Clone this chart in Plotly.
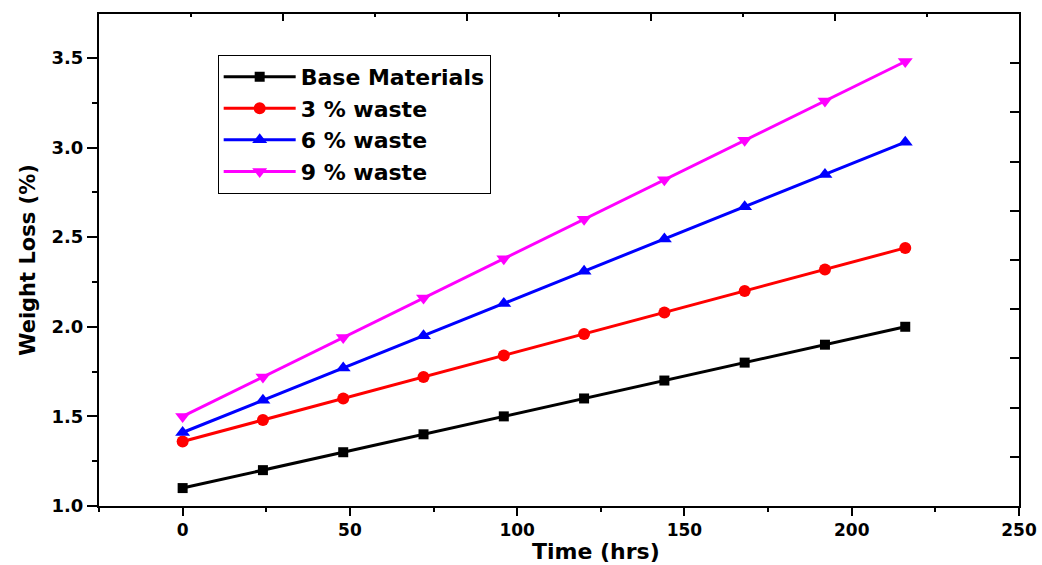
import plotly.graph_objects as go

time_hrs = [0, 24, 48, 72, 96, 120, 144, 168, 192, 216]
base_materials = [1.10, 1.20, 1.30, 1.40, 1.50, 1.60, 1.70, 1.80, 1.90, 2.00]
waste_3 = [1.36, 1.48, 1.60, 1.72, 1.84, 1.96, 2.08, 2.20, 2.32, 2.44]
waste_6 = [1.41, 1.59, 1.77, 1.95, 2.13, 2.31, 2.49, 2.67, 2.85, 3.03]
waste_9 = [1.50, 1.72, 1.94, 2.16, 2.38, 2.60, 2.82, 3.04, 3.26, 3.48]

series = [
    ("Base Materials", base_materials, "#000000", "square", 10),
    ("3 % waste", waste_3, "#ff0000", "circle", 12),
    ("6 % waste", waste_6, "#0000ff", "triangle-up", 13),
    ("9 % waste", waste_9, "#ff00ff", "triangle-down", 13),
]

FONT = "DejaVu Sans"

fig = go.Figure()
for name, vals, color, sym, size in series:
    fig.add_trace(go.Scatter(
        x=time_hrs, y=vals, name=name, mode="lines+markers",
        line=dict(color=color, width=3),
        marker=dict(symbol=sym, size=size, color=color),
    ))

# empty helper trace so that the mirrored top/right frame axes are drawn
fig.add_trace(go.Scatter(x=[None], y=[None], xaxis="x2", yaxis="y2",
                         showlegend=False, hoverinfo="skip", mode="lines"))

axis_common = dict(showgrid=False, zeroline=False, showline=True,
                   linecolor="black", linewidth=2, tickcolor="black",
                   tickwidth=2, automargin=False)

fig.update_layout(
    width=1042, height=565,
    margin=dict(l=99, r=23, t=14, b=59),
    paper_bgcolor="white", plot_bgcolor="white",
    font=dict(family=FONT, color="black"),
    xaxis=dict(
        range=[-25, 250], tick0=0, dtick=50, ticks="outside", ticklen=8,
        minor=dict(dtick=25, tick0=0, ticks="outside", ticklen=4, tickwidth=2, tickcolor="black"),
        tickfont=dict(size=17, family=FONT, weight="bold"),
        **axis_common,
    ),
    yaxis=dict(
        range=[1.0, 3.745], tick0=1.0, dtick=0.5, ticks="outside", ticklen=10,
        tickformat=".1f",
        minor=dict(dtick=0.25, tick0=1.0, ticks="outside", ticklen=5, tickwidth=2, tickcolor="black"),
        tickfont=dict(size=18, family=FONT, weight="bold"),
        title=dict(text="<b>Weight Loss (%)</b>", font=dict(size=21, family=FONT), standoff=10),
        **axis_common,
    ),
    xaxis2=dict(
        overlaying="x", side="top", anchor="y2", range=[0, 10],
        tick0=0, dtick=2, ticks="inside", ticklen=7, showticklabels=False,
        minor=dict(dtick=1, tick0=0, ticks="inside", ticklen=3, tickwidth=2, tickcolor="black"),
        **axis_common,
    ),
    yaxis2=dict(
        overlaying="y", side="right", anchor="x2", range=[0, 10],
        tick0=0, dtick=1, ticks="inside", ticklen=9, showticklabels=False,
        **axis_common,
    ),
    legend=dict(
        x=0.129, y=0.917, xanchor="left", yanchor="top",
        bordercolor="black", borderwidth=1, bgcolor="white",
        font=dict(size=22, family=FONT, weight="bold", color="black"),
        itemwidth=72, tracegroupgap=0,
    ),
    annotations=[dict(
        text="<b>Time (hrs)</b>", xref="paper", yref="paper",
        x=0.540, y=-0.092, xanchor="center", yanchor="middle",
        showarrow=False, font=dict(size=22, family=FONT, color="black"),
    )],
)

fig.write_html("out.html")
